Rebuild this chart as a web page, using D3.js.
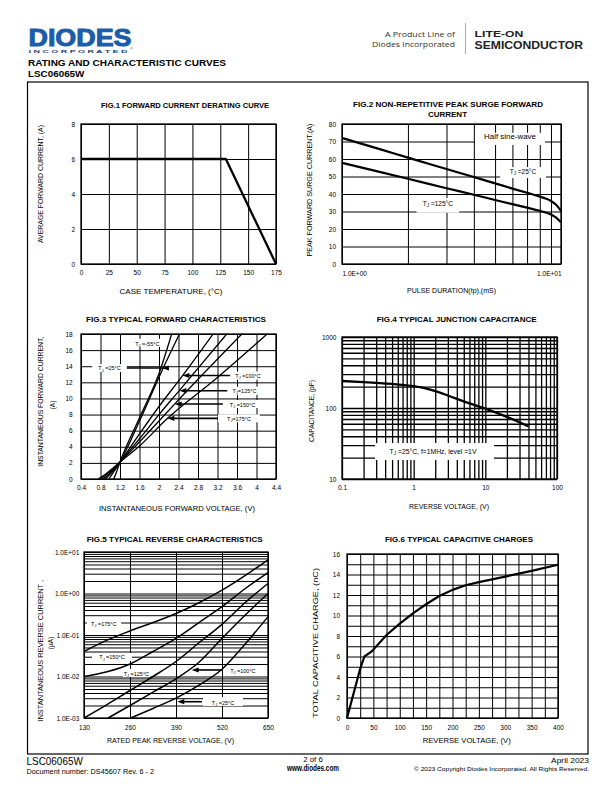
<!DOCTYPE html>
<html><head><meta charset="utf-8">
<script src="https://cdn.jsdelivr.net/npm/d3@7"></script>
<style>
body{margin:0;background:#fff}
svg{display:block}
text{font-family:"Liberation Sans",Arial,Helvetica,sans-serif;fill:#000}
</style></head>
<body><svg id="c" width="612" height="792"></svg>
<script>
// ---------------- DATA ----------------
// Fig.1 derating
const fig1Temp = [0, 130, 175];
const fig1Current = [6, 6, 0];
const fig1XTicks = [0, 25, 50, 75, 100, 125, 150, 175];
const fig1YTicks = [0, 2, 4, 6, 8];
// Fig.2 surge current
const fig2Duration = [1, 1.5, 2, 3, 4, 5, 6, 7, 8, 8.5, 9, 9.5, 10];
const fig2Tj25 = [72, 65.5, 60.8, 54.3, 49.7, 46.1, 43.1, 40.7, 38.5, 37.4, 36.0, 33.8, 30.3];
const fig2Tj125 = [57.8, 52.5, 48.7, 43.3, 39.6, 36.6, 34.2, 32.2, 30.4, 29.5, 28.3, 26.5, 23.8];
const fig2YTicks = [0, 10, 20, 30, 40, 50, 60, 70, 80];
const fig2XTicks = [1, 10];
const fig2XTickLabels = ["1.0E+00", "1.0E+01"];
// Fig.3 forward characteristics
const fig3XTicks = [0.4, 0.8, 1.2, 1.6, 2, 2.4, 2.8, 3.2, 3.6, 4, 4.4];
const fig3YTicks = [0, 2, 4, 6, 8, 10, 12, 14, 16, 18];
const fig3Tm55V = [1.07, 1.13, 1.2, 1.6, 2.0, 2.26];
const fig3Tm55I = [0, 0.9, 2.1, 7.6, 13.1, 18];
const fig3T25V = [0.97, 1.05, 1.2, 1.6, 2.08, 2.42];
const fig3T25I = [0, 0.7, 2.1, 7.2, 13.7, 18];
const fig3T100V = [0.9, 1.0, 1.2, 1.6, 2.0, 2.48, 3.11];
const fig3T100I = [0, 0.6, 2.1, 5.6, 9.0, 12.8, 18];
const fig3T125V = [0.85, 0.97, 1.2, 1.6, 2.0, 2.42, 3.39];
const fig3T125I = [0, 0.6, 2.1, 5.0, 8.0, 11.0, 18];
const fig3T150V = [0.8, 0.93, 1.2, 1.6, 2.0, 2.32, 3.7];
const fig3T150I = [0, 0.6, 2.1, 4.6, 7.2, 9.3, 18];
const fig3T175V = [0.75, 0.9, 1.2, 1.6, 2.17, 3.2, 4.22];
const fig3T175I = [0, 0.6, 2.1, 4.1, 7.5, 12.6, 18];
// Fig.4 junction capacitance
const fig4Voltage = [0.1, 0.2, 0.5, 1, 1.5, 2, 3, 5, 10, 20, 40];
const fig4Cap = [240, 232, 218, 203, 188, 173, 150, 124, 98, 75, 55];
const fig4XTicks = [0.1, 1, 10, 100];
const fig4XTickLabels = ["0.1", "1", "10", "100"];
const fig4YTicks = [10, 100, 1000];
// Fig.5 reverse characteristics
const fig5XTicks = [130, 260, 390, 520, 650];
const fig5YTicks = [0.001, 0.01, 0.1, 1, 10];
const fig5YTickLabels = ["1.0E-03", "1.0E-02", "1.0E-01", "1.0E+00", "1.0E+01"];
const fig5T175V = [130, 195, 260, 325, 390, 455, 520, 585, 650];
const fig5T175I = [0.04, 0.075, 0.125, 0.2, 0.33, 0.6, 1.2, 2.7, 6.5];
const fig5T150V = [130, 195, 260, 325, 390, 455, 520, 585, 650];
const fig5T150I = [0.01, 0.013, 0.02, 0.04, 0.083, 0.2, 0.48, 1.3, 3.2];
const fig5T125V = [130, 195, 260, 325, 390, 455, 520, 585, 650];
const fig5T125I = [0.001, 0.0021, 0.0046, 0.01, 0.023, 0.065, 0.18, 0.6, 1.74];
const fig5T100V = [198, 260, 325, 390, 455, 520, 585, 650];
const fig5T100I = [0.001, 0.002, 0.0042, 0.0088, 0.022, 0.083, 0.3, 1.0];
const fig5T25V = [262, 325, 390, 455, 520, 585, 650];
const fig5T25I = [0.001, 0.0017, 0.003, 0.0062, 0.015, 0.06, 0.275];
// Fig.6 capacitive charge
const fig6Voltage = [0, 25, 33, 47, 75, 100, 125, 150, 175, 200, 225, 250, 300, 350, 400];
const fig6Charge = [0, 4.8, 6.0, 6.5, 8.1, 9.2, 10.2, 11.1, 11.9, 12.5, 12.95, 13.25, 13.8, 14.35, 14.95];
const fig6XTicks = [0, 50, 100, 150, 200, 250, 300, 350, 400];
const fig6YTicks = [0, 2, 4, 6, 8, 10, 12, 14, 16];

// ---------------- HELPERS ----------------
const svg = d3.select('#c');
function T(g, x, y, s, o = {}) {
  const t = g.append('text').attr('x', x).attr('y', y)
    .attr('font-size', o.size || 6.5).attr('text-anchor', o.anchor || 'start');
  if (o.bold) t.attr('font-weight', 'bold');
  if (o.len) t.attr('textLength', o.len).attr('lengthAdjust', 'spacingAndGlyphs');
  if (o.rot) t.attr('transform', `rotate(-90,${x},${y})`);
  if (o.fill) t.style('fill', o.fill);
  if (o.family) t.style('font-family', o.family);
  if (o.stroke) t.style('stroke', o.stroke).style('stroke-width', o.sw || 0.8);
  t.text(s);
  return t;
}
function TJ(g, x, y, rest, size) {
  const t = g.append('text').attr('x', x).attr('y', y).attr('font-size', size).attr('text-anchor', 'middle');
  t.append('tspan').text('T');
  t.append('tspan').attr('font-size', size * 0.7).attr('dy', size * 0.2).text('J');
  t.append('tspan').attr('dy', -size * 0.2).text(rest);
  return t;
}
function logGrid(lo, hi) {
  const out = [];
  for (let e = Math.round(Math.log10(lo)); e < Math.round(Math.log10(hi)); e++)
    for (let k = 1; k < 10; k++) out.push(+(k * Math.pow(10, e)).toPrecision(3));
  out.push(hi);
  return out;
}
function panel(c) {
  const g = svg.append('g');
  const w = c.x1 - c.x0, h = c.y1 - c.y0;
  const gx = g.append('g').attr('transform', `translate(0,${c.y1})`)
    .call(d3.axisBottom(c.x).tickValues(c.xGrid).tickSize(-h).tickFormat(() => ''));
  gx.select('.domain').remove();
  gx.selectAll('line').attr('stroke', '#000').attr('stroke-width', c.gw || 1);
  const gy = g.append('g').attr('transform', `translate(${c.x0},0)`)
    .call(d3.axisLeft(c.y).tickValues(c.yGrid).tickSize(-w).tickFormat(() => ''));
  gy.select('.domain').remove();
  gy.selectAll('line').attr('stroke', '#000').attr('stroke-width', c.gw || 1);
  (c.boxes || []).forEach(b => {
    const xa = c.x(b[0]), xb = c.x(b[1]), ya = c.y(b[2]), yb = c.y(b[3]);
    g.append('rect').attr('x', Math.min(xa, xb)).attr('y', Math.min(ya, yb))
      .attr('width', Math.abs(xb - xa)).attr('height', Math.abs(yb - ya)).attr('fill', '#fff');
  });
  g.append('rect').attr('x', c.x0).attr('y', c.y0).attr('width', w).attr('height', h)
    .attr('fill', 'none').attr('stroke', '#000').attr('stroke-width', 1.3);
  const ax = g.append('g').attr('transform', `translate(0,${c.y1})`)
    .call(d3.axisBottom(c.x).tickValues(c.xTicks).tickSize(0).tickPadding(c.xPad).tickFormat(c.xFmt || (d => d)));
  ax.select('.domain').remove();
  ax.attr('font-family', null).attr('font-size', 6.5);
  const ay = g.append('g').attr('transform', `translate(${c.x0},0)`)
    .call(d3.axisLeft(c.y).tickValues(c.yTicks).tickSize(0).tickPadding(c.yPad).tickFormat(c.yFmt || (d => d)));
  ay.select('.domain').remove();
  ay.attr('font-family', null).attr('font-size', 6.5);
  return {g, ax, ay};
}
function curve(g, xs, ys, X, Y, sw, kind) {
  const pts = X.map((v, i) => [v, Y[i]]);
  g.append('path').datum(pts)
    .attr('d', d3.line().x(d => xs(d[0])).y(d => ys(d[1])).curve(kind || d3.curveMonotoneX))
    .attr('fill', 'none').attr('stroke', '#000').attr('stroke-width', sw)
    .attr('stroke-linejoin', 'round').attr('stroke-linecap', 'butt');
}
function arrow(g, xs, ys, fromX, tipX, yv) {
  const x0 = xs(fromX), x1 = xs(tipX), y = ys(yv);
  g.append('line').attr('x1', x0).attr('x2', x1 + 5).attr('y1', y).attr('y2', y)
    .attr('stroke', '#000').attr('stroke-width', 1.6);
  g.append('path').attr('d', `M${x1},${y}L${x1 + 7},${y - 2.6}L${x1 + 7},${y + 2.6}Z`).attr('fill', '#000');
}

// ---------------- HEADER ----------------
const hd = svg.append('g');
T(hd, 28.5, 46.3, 'DIODES', {size: 24.5, bold: true, len: 103, fill: '#1d5ca8', stroke: '#1d5ca8', sw: 1});
T(hd, 28.5, 53.2, 'I N C O R P O R A T E D', {size: 3.4, bold: true, len: 99, fill: '#1d3f7a'});
T(hd, 130, 50, '®', {size: 4, fill: '#1d5ca8'});
T(hd, 455, 37, 'A Product Line of', {size: 8, anchor: 'end', len: 70, fill: '#333', family: '"Open Sans",sans-serif'});
T(hd, 455, 47, 'Diodes Incorporated', {size: 8, anchor: 'end', len: 83, fill: '#333', family: '"Open Sans",sans-serif'});
hd.append('line').attr('x1', 465.5).attr('x2', 465.5).attr('y1', 23).attr('y2', 54).attr('stroke', '#aaa').attr('stroke-width', 1);
T(hd, 474.6, 37, 'LITE-ON', {size: 9.8, bold: true, len: 48.8, fill: '#222'});
T(hd, 474.6, 49.3, 'SEMICONDUCTOR', {size: 10.6, bold: true, len: 108.5, fill: '#222'});
T(hd, 28, 66, 'RATING AND CHARACTERISTIC CURVES', {size: 9.5, bold: true, len: 198});
T(hd, 28, 77.3, 'LSC06065W', {size: 9.5, bold: true, len: 56.4});
hd.append('rect').attr('x', 27.5).attr('y', 82).attr('width', 560.5).attr('height', 672)
  .attr('fill', 'none').attr('stroke', '#000').attr('stroke-width', 1.2);

// ---------------- FIG 1 ----------------
{
  const x = d3.scaleLinear().domain([0, 175]).range([81, 276]);
  const y = d3.scaleLinear().domain([0, 8]).range([264, 124]);
  const p = panel({x, y, x0: 81, x1: 276, y0: 124, y1: 264, xGrid: fig1XTicks, yGrid: fig1YTicks,
    xTicks: fig1XTicks, yTicks: fig1YTicks, xPad: 6.4, yPad: 6});
  curve(p.g, x, y, fig1Temp, fig1Current, 2.3, d3.curveLinear);
  T(p.g, 185, 108, 'FIG.1 FORWARD CURRENT DERATING CURVE', {size: 8, bold: true, anchor: 'middle', len: 168});
  T(p.g, 171, 294, 'CASE TEMPERATURE, (°C)', {size: 6.5, anchor: 'middle', len: 103});
  T(p.g, 43, 184, 'AVERAGE FORWARD CURRENT, (A)', {size: 6.5, anchor: 'middle', len: 118, rot: true});
}

// ---------------- FIG 2 ----------------
{
  const x = d3.scaleLog().domain([1, 10]).range([342, 561]);
  const y = d3.scaleLinear().domain([0, 80]).range([264, 124]);
  const p = panel({x, y, x0: 342, x1: 561, y0: 124, y1: 264, xGrid: logGrid(1, 10), yGrid: fig2YTicks,
    xTicks: fig2XTicks, yTicks: fig2YTicks, xPad: 7.4, yPad: 6,
    xFmt: (d, i) => fig2XTickLabels[i],
    boxes: [[4.05, 8.45, 75, 68], [5.27, 8.54, 55.4, 49.1], [2.19, 3.43, 37.7, 29.3]]});
  p.ax.selectAll('text').attr('text-anchor', (d, i) => i ? 'end' : 'start');
  curve(p.g, x, y, fig2Duration, fig2Tj25, 2.2);
  curve(p.g, x, y, fig2Duration, fig2Tj125, 2.2);
  T(p.g, x(5.85), y(71.3), 'Half sine-wave', {size: 6.5, anchor: 'middle', len: 52});
  TJ(p.g, x(6.7), y(51.4), ' =25°C', 6.5);
  TJ(p.g, x(2.74), y(33.1), ' =125°C', 6.5);
  T(p.g, 448, 107.3, 'FIG.2 NON-REPETITIVE PEAK SURGE FORWARD', {size: 8, bold: true, anchor: 'middle', len: 190});
  T(p.g, 447.5, 117.3, 'CURRENT', {size: 8, bold: true, anchor: 'middle', len: 39});
  T(p.g, 451.6, 293.3, 'PULSE DURATION(tp),(mS)', {size: 6.5, anchor: 'middle', len: 89});
  T(p.g, 312.3, 190, 'PEAK FORWARD SURGE CURRENT,(A)', {size: 6.5, anchor: 'middle', len: 133, rot: true});
}

// ---------------- FIG 3 ----------------
{
  const x = d3.scaleLinear().domain([0.4, 4.4]).range([81, 276]);
  const y = d3.scaleLinear().domain([0, 18]).range([479, 334]);
  const p = panel({x, y, x0: 81, x1: 276, y0: 334, y1: 479, xGrid: fig3XTicks, yGrid: fig3YTicks,
    xTicks: fig3XTicks, yTicks: fig3YTicks, xPad: 6.4, yPad: 8.3,
    boxes: [[1.43, 2.06, 16.4, 17.4], [0.63, 1.34, 13.28, 14.27], [3.46, 4.2, 12.35, 13.34],
            [3.4, 4.11, 10.46, 11.46], [3.31, 4.11, 8.81, 9.81], [3.21, 4.07, 7.04, 8.03]]});
  const sw = 1.3;
  curve(p.g, x, y, fig3Tm55V, fig3Tm55I, sw);
  curve(p.g, x, y, fig3T25V, fig3T25I, sw);
  curve(p.g, x, y, fig3T100V, fig3T100I, sw);
  curve(p.g, x, y, fig3T125V, fig3T125I, sw);
  curve(p.g, x, y, fig3T150V, fig3T150I, sw);
  curve(p.g, x, y, fig3T175V, fig3T175I, sw);
  arrow(p.g, x, y, 1.34, 2.06, 13.78);
  arrow(p.g, x, y, 3.46, 2.48, 12.85);
  arrow(p.g, x, y, 3.40, 2.42, 10.96);
  arrow(p.g, x, y, 3.31, 2.32, 9.31);
  arrow(p.g, x, y, 3.21, 2.17, 7.53);
  TJ(p.g, x(1.76), y(16.57), ' =-55°C', 5.5);
  TJ(p.g, x(0.985), y(13.47), ' =25°C', 5.5);
  TJ(p.g, x(3.826), y(12.54), ' =100°C', 5.5);
  TJ(p.g, x(3.754), y(10.65), '=125°C', 5.5);
  TJ(p.g, x(3.713), y(9.0), ' =150°C', 5.5);
  TJ(p.g, x(3.64), y(7.22), '=175°C', 5.5);
  T(p.g, 176, 321.7, 'FIG.3 TYPICAL FORWARD CHARACTERISTICS', {size: 8, bold: true, anchor: 'middle', len: 180});
  T(p.g, 177, 511, 'INSTANTANEOUS FORWARD VOLTAGE, (V)', {size: 6.5, anchor: 'middle', len: 156});
  T(p.g, 43, 401.7, 'INSTANTANEOUS FORWARD CURRENT,', {size: 6.5, anchor: 'middle', len: 130, rot: true});
  T(p.g, 54.6, 405, '(A)', {size: 6.5, anchor: 'middle', rot: true});
}

// ---------------- FIG 4 ----------------
{
  const x = d3.scaleLog().domain([0.1, 100]).range([342, 557]);
  const y = d3.scaleLog().domain([10, 1000]).range([479, 337]);
  const p = panel({x, y, x0: 342, x1: 557, y0: 337, y1: 479, xGrid: logGrid(0.1, 100), yGrid: logGrid(10, 1000),
    xTicks: fig4XTicks, yTicks: fig4YTicks, xPad: 6.4, yPad: 5.6, gw: 1.3,
    xFmt: (d, i) => fig4XTickLabels[i],
    boxes: [[0.289, 13.2, 32.1, 18.5]]});
  curve(p.g, x, y, fig4Voltage, fig4Cap, 2.3);
  TJ(p.g, x(1.86), y(22.5), ' =25°C, f=1MHz, level =1V', 6.8);
  T(p.g, 456.7, 322.3, 'FIG.4 TYPICAL JUNCTION CAPACITANCE', {size: 8, bold: true, anchor: 'middle', len: 160});
  T(p.g, 449, 509, 'REVERSE VOLTAGE, (V)', {size: 6.5, anchor: 'middle', len: 80});
  T(p.g, 314, 411, 'CAPACITANCE, (pF)', {size: 6.5, anchor: 'middle', len: 62, rot: true});
}

// ---------------- FIG 5 ----------------
{
  const x = d3.scaleLinear().domain([130, 650]).range([84, 268]);
  const y = d3.scaleLog().domain([0.001, 10]).range([718, 552]);
  const p = panel({x, y, x0: 84, x1: 268, y0: 552, y1: 718, xGrid: fig5XTicks, yGrid: logGrid(0.001, 10),
    xTicks: fig5XTicks, yTicks: fig5YTicks, xPad: 7.4, yPad: 4.7,
    yFmt: (d, i) => fig5YTickLabels[i],
    boxes: [[138, 235, 0.148, 0.23], [152.6, 265.7, 0.0236, 0.0368], [240, 317, 0.00973, 0.0152],
            [525.7, 633, 0.01148, 0.0179], [466.3, 579.4, 0.00195, 0.00321]]});
  const sw = 1.5;
  curve(p.g, x, y, fig5T175V, fig5T175I, sw);
  curve(p.g, x, y, fig5T150V, fig5T150I, sw);
  curve(p.g, x, y, fig5T125V, fig5T125I, sw);
  curve(p.g, x, y, fig5T100V, fig5T100I, sw);
  curve(p.g, x, y, fig5T25V, fig5T25I, sw);
  arrow(p.g, x, y, 520, 434.4, 0.01436);
  arrow(p.g, x, y, 463.5, 393.7, 0.00247);
  TJ(p.g, x(186), y(0.165), ' =175°C', 5.5);
  TJ(p.g, x(209), y(0.0257), ' =150°C', 5.5);
  TJ(p.g, x(278), y(0.01057), ' =125°C', 5.5);
  TJ(p.g, x(579), y(0.01247), ' =100°C', 5.5);
  TJ(p.g, x(522.9), y(0.00211), ' =25°C', 5.5);
  T(p.g, 174.7, 542.3, 'FIG.5 TYPICAL REVERSE CHARACTERISTICS', {size: 8, bold: true, anchor: 'middle', len: 176});
  T(p.g, 170.5, 743.3, 'RATED PEAK REVERSE VOLTAGE, (V)', {size: 6.5, anchor: 'middle', len: 127});
  T(p.g, 43, 650.8, 'INSTANTANEOUS REVERSE CURRENT ,', {size: 6.5, anchor: 'middle', len: 141.7, rot: true});
  T(p.g, 53, 643, '(µA)', {size: 6.5, anchor: 'middle', rot: true});
}

// ---------------- FIG 6 ----------------
{
  const x = d3.scaleLinear().domain([0, 400]).range([347, 558]);
  const y = d3.scaleLinear().domain([0, 16]).range([718, 554]);
  const p = panel({x, y, x0: 347, x1: 558, y0: 554, y1: 718, xGrid: d3.range(0, 401, 25), yGrid: d3.range(0, 17, 1),
    xTicks: fig6XTicks, yTicks: fig6YTicks, xPad: 7.4, yPad: 7});
  curve(p.g, x, y, fig6Voltage, fig6Charge, 2.2, d3.curveLinear);
  T(p.g, 459, 541.7, 'FIG.6 TYPICAL CAPACITIVE CHARGES', {size: 8, bold: true, anchor: 'middle', len: 148});
  T(p.g, 466.7, 743.3, 'REVERSE VOLTAGE, (V)', {size: 6.5, anchor: 'middle', len: 88});
  T(p.g, 318, 643, 'TOTAL CAPACITIVE CHARGE, (nC)', {size: 8, anchor: 'middle', len: 150, rot: true});
}

// ---------------- FOOTER ----------------
const ft = svg.append('g');
T(ft, 26.5, 764.5, 'LSC06065W', {size: 11, len: 56.3});
T(ft, 26.5, 773.5, 'Document number: DS45607 Rev. 6 - 2', {size: 6.5, len: 127.5});
T(ft, 313, 762, '2 of 6', {size: 7, anchor: 'middle', len: 19.5});
T(ft, 313, 771, 'www.diodes.com', {size: 8.5, bold: true, anchor: 'middle', len: 52});
T(ft, 589, 762.5, 'April 2023', {size: 7, anchor: 'end', len: 38});
T(ft, 589, 771, '© 2023 Copyright Diodes Incorporated. All Rights Reserved.', {size: 5.5, anchor: 'end', len: 175});
</script></body></html>
